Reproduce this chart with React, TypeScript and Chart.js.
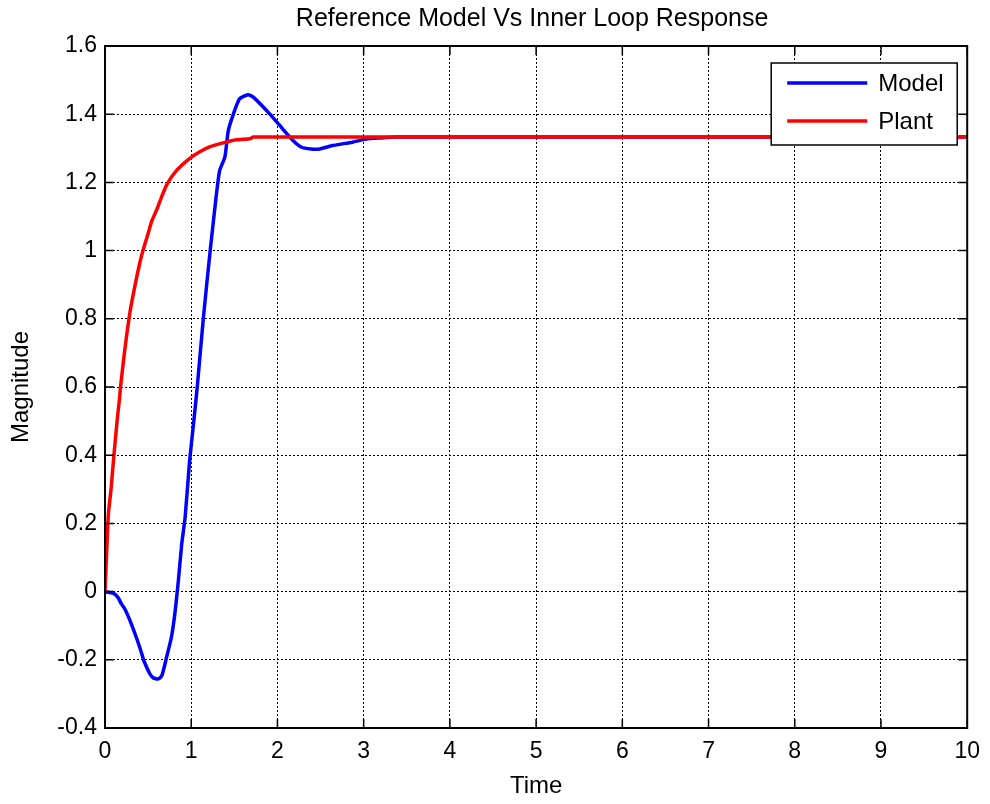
import React, { useEffect, useRef } from "react";
import { Chart, registerables } from "chart.js";

Chart.register(...registerables);

const chartTitle = "Reference Model Vs Inner Loop Response";
const xAxisTitle = "Time";
const yAxisTitle = "Magnitude";
const seriesNames = ["Model", "Plant"];

const xTickValues = [0, 1, 2, 3, 4, 5, 6, 7, 8, 9, 10];
const xTickLabels = ["0", "1", "2", "3", "4", "5", "6", "7", "8", "9", "10"];
const yTickValues = [-0.4, -0.2, 0, 0.2, 0.4, 0.6, 0.8, 1, 1.2, 1.4, 1.6];
const yTickLabels = ["-0.4", "-0.2", "0", "0.2", "0.4", "0.6", "0.8", "1", "1.2", "1.4", "1.6"];

const modelTime = [
  0, 0.1, 0.15, 0.19, 0.23, 0.29, 0.37, 0.43, 0.45, 0.52, 0.56, 0.62, 0.66, 0.71, 0.77, 0.81,
  0.85, 0.89, 0.93, 0.98, 1.03, 1.07, 1.14, 1.22, 1.29, 1.33, 1.39, 1.43, 1.49, 1.56, 1.66,
  1.72, 1.91, 2.06, 2.18, 2.28, 2.39, 2.49, 2.64, 2.87, 3.03, 3.18, 3.4, 10,
];
const modelValues = [
  0, -0.005, -0.017, -0.036, -0.051, -0.085, -0.139, -0.185, -0.202, -0.241, -0.253, -0.256,
  -0.246, -0.197, -0.134, -0.065, 0.03, 0.14, 0.22, 0.38, 0.5, 0.6, 0.8, 1.0, 1.16, 1.235,
  1.274, 1.352, 1.401, 1.445, 1.457, 1.45, 1.401, 1.357, 1.323, 1.303, 1.298, 1.298, 1.308,
  1.318, 1.327, 1.33, 1.333, 1.333,
];

const plantTime = [
  0, 0.02, 0.04, 0.07, 0.1, 0.14, 0.17, 0.18, 0.23, 0.29, 0.35, 0.4, 0.44, 0.5, 0.54, 0.6,
  0.66, 0.72, 0.83, 0.98, 1.1, 1.22, 1.37, 1.52, 1.68, 1.72, 10,
];
const plantValues = [
  0, 0.12, 0.23, 0.3, 0.39, 0.5, 0.57, 0.6, 0.71, 0.82, 0.9, 0.96, 1.0, 1.05, 1.085, 1.12,
  1.16, 1.195, 1.235, 1.27, 1.29, 1.305, 1.316, 1.325, 1.328, 1.333, 1.333,
];

const seriesColors = ["#0000ff", "#ff0000"];
const FONT = "'Liberation Sans', Arial, Helvetica, sans-serif";

const framePlugin = {
  id: "matlabFrame",
  afterDatasetsDraw(chart: any) {
    const { ctx, chartArea } = chart;
    const { left, right, top, bottom } = chartArea;
    const xs = chart.scales.x;
    const ys = chart.scales.y;
    ctx.save();
    ctx.strokeStyle = "#000";
    ctx.lineWidth = 1.5;
    ctx.setLineDash([]);
    const tl = 9;
    ctx.beginPath();
    xTickValues.forEach((v) => {
      const px = xs.getPixelForValue(v);
      ctx.moveTo(px, bottom);
      ctx.lineTo(px, bottom - tl);
      ctx.moveTo(px, top);
      ctx.lineTo(px, top + tl);
    });
    yTickValues.forEach((v) => {
      const py = ys.getPixelForValue(v);
      ctx.moveTo(left, py);
      ctx.lineTo(left + tl, py);
      ctx.moveTo(right, py);
      ctx.lineTo(right - tl, py);
    });
    ctx.stroke();
    ctx.lineWidth = 2;
    ctx.strokeRect(left, top, right - left, bottom - top);

    // legend
    const lx = right - 196;
    const ly = top + 17;
    const lw = 186;
    const lh = 82;
    ctx.fillStyle = "#fff";
    ctx.fillRect(lx, ly, lw, lh);
    ctx.lineWidth = 1.5;
    ctx.strokeRect(lx, ly, lw, lh);
    ctx.font = `24px ${FONT}`;
    ctx.textBaseline = "middle";
    ctx.textAlign = "left";
    seriesNames.forEach((name, i) => {
      const y = ly + 20 + i * 38;
      ctx.strokeStyle = seriesColors[i];
      ctx.lineWidth = 3.5;
      ctx.beginPath();
      ctx.moveTo(lx + 16, y);
      ctx.lineTo(lx + 96, y);
      ctx.stroke();
      ctx.fillStyle = "#000";
      ctx.fillText(name, lx + 107, y + 1);
    });

    // title
    ctx.font = `25px ${FONT}`;
    ctx.textAlign = "center";
    ctx.textBaseline = "middle";
    ctx.fillStyle = "#000";
    ctx.fillText(chartTitle, (left + right) / 2 - 4, 19);
    ctx.restore();
  },
};

export default function App() {
  const canvasRef = useRef<HTMLCanvasElement | null>(null);

  useEffect(() => {
    const canvas = canvasRef.current;
    if (!canvas) return;
    const chart = new Chart(canvas, {
      type: "line",
      data: {
        datasets: [
          {
            label: seriesNames[0],
            data: modelTime.map((t, i) => ({ x: t, y: modelValues[i] })),
            borderColor: seriesColors[0],
            backgroundColor: seriesColors[0],
            borderWidth: 3.5,
            pointRadius: 0,
            tension: 0.2,
            order: 1,
          },
          {
            label: seriesNames[1],
            data: plantTime.map((t, i) => ({ x: t, y: plantValues[i] })),
            borderColor: seriesColors[1],
            backgroundColor: seriesColors[1],
            borderWidth: 3.5,
            pointRadius: 0,
            tension: 0.2,
            order: 0,
          },
        ],
      },
      options: {
        responsive: false,
        animation: false,
        layout: { padding: { top: 46, right: 21, left: 0, bottom: 0 } },
        plugins: {
          legend: { display: false },
          title: { display: false },
          tooltip: { enabled: false },
        },
        scales: {
          x: {
            type: "linear",
            min: 0,
            max: 10,
            afterBuildTicks: (scale: any) => {
              scale.ticks = xTickValues.map((v) => ({ value: v }));
            },
            afterFit: (scale: any) => {
              scale.height = 76;
            },
            ticks: {
              color: "#000",
              font: { family: FONT, size: 23 },
              padding: 10,
              maxRotation: 0,
              autoSkip: false,
              callback: (_v: any, i: number) => xTickLabels[i],
            },
            grid: { color: "#000", lineWidth: 1, drawTicks: false },
            border: { display: false, dash: [2, 2] },
            title: {
              display: true,
              text: xAxisTitle,
              color: "#000",
              font: { family: FONT, size: 24 },
              padding: { top: 0, bottom: 3 },
            },
          },
          y: {
            type: "linear",
            min: -0.4,
            max: 1.6,
            afterBuildTicks: (scale: any) => {
              scale.ticks = yTickValues.map((v) => ({ value: v }));
            },
            afterFit: (scale: any) => {
              scale.width = 105;
            },
            ticks: {
              color: "#000",
              font: { family: FONT, size: 23 },
              padding: 8,
              autoSkip: false,
              callback: (_v: any, i: number) => yTickLabels[i],
            },
            grid: { color: "#000", lineWidth: 1, drawTicks: false },
            border: { display: false, dash: [2, 2] },
            title: {
              display: true,
              text: yAxisTitle,
              color: "#000",
              font: { family: FONT, size: 24 },
              padding: { top: 7, bottom: 0 },
            },
          },
        },
      },
      plugins: [framePlugin],
    } as any);
    return () => chart.destroy();
  }, []);

  return (
    <div style={{ position: "absolute", left: 0, top: 0, width: 990, height: 804, background: "#fff" }}>
      <canvas ref={canvasRef} width={990} height={804} style={{ display: "block" }} />
    </div>
  );
}
